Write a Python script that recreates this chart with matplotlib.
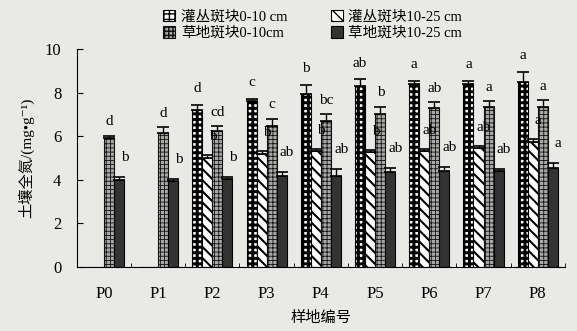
import numpy as np
import matplotlib
matplotlib.use("Agg")
import matplotlib.pyplot as plt
from matplotlib.patches import Patch

plt.rcParams['font.family'] = ['Liberation Serif', 'Noto Sans CJK SC', 'DejaVu Serif']

nan = np.nan
sites = ["P0", "P1", "P2", "P3", "P4", "P5", "P6", "P7", "P8"]
series_names = ["灌丛斑块0-10 cm", "灌丛斑块10-25 cm", "草地斑块0-10cm", "草地斑块10-25 cm"]

# soil total N (mg/g), mean and upper error
shrub_0_10 = [nan, nan, 7.2, 7.6, 7.95, 8.3, 8.4, 8.4, 8.5]
shrub_0_10_err = [nan, nan, 0.25, 0.1, 0.4, 0.3, 0.15, 0.15, 0.45]
shrub_10_25 = [nan, nan, 5.0, 5.2, 5.3, 5.25, 5.3, 5.45, 5.75]
shrub_10_25_err = [nan, nan, 0.15, 0.1, 0.1, 0.1, 0.1, 0.1, 0.1]
grass_0_10 = [5.9, 6.15, 6.25, 6.45, 6.7, 7.0, 7.3, 7.35, 7.35]
grass_0_10_err = [0.1, 0.25, 0.2, 0.35, 0.3, 0.35, 0.25, 0.25, 0.3]
grass_10_25 = [4.0, 3.95, 4.05, 4.15, 4.15, 4.35, 4.4, 4.4, 4.55]
grass_10_25_err = [0.1, 0.1, 0.05, 0.2, 0.35, 0.2, 0.2, 0.1, 0.2]

# significance letters
shrub_0_10_sig = ["", "", "d", "c", "b", "ab", "a", "a", "a"]
shrub_10_25_sig = ["", "", "b", "b", "b", "b", "ab", "ab", "a"]
grass_0_10_sig = ["d", "d", "cd", "c", "bc", "b", "ab", "a", "a"]
grass_10_25_sig = ["b", "b", "b", "ab", "ab", "ab", "ab", "ab", "a"]

bg = '#e9e9e5'
fig = plt.figure(figsize=(5.77, 3.31), dpi=100, facecolor=bg)
ax = fig.add_axes([0.133, 0.194, 0.846, 0.658])
ax.set_facecolor(bg)

x = np.arange(len(sites))
w = 0.185
styles = [
    dict(facecolor='white', edgecolor='black', hatch='+++'),
    dict(facecolor='white', edgecolor='black', hatch='\\\\\\'),
    dict(facecolor='#a8a8a8', edgecolor='#111111', hatch='++++'),
    dict(facecolor='#333333', edgecolor='black', hatch=None),
]
hatch_lw = [2.1, 1.5, 0.6, 1.0]
data = [
    (shrub_0_10, shrub_0_10_err, shrub_0_10_sig),
    (shrub_10_25, shrub_10_25_err, shrub_10_25_sig),
    (grass_0_10, grass_0_10_err, grass_0_10_sig),
    (grass_10_25, grass_10_25_err, grass_10_25_sig),
]
# label placement per series: x shift (in bar widths), y gap
lab_dx = [0.0, 0.55, 0.05, 0.55]
lab_dy = [0.45, 0.55, 0.35, 0.6]


def set_hlw(patch, lw):
    if hasattr(patch, 'set_hatch_linewidth'):
        patch.set_hatch_linewidth(lw)


handles = []
for i, ((vals, errs, sig), st) in enumerate(zip(data, styles)):
    plt.rcParams['hatch.linewidth'] = hatch_lw[i]
    vals = np.array(vals, dtype=float)
    errs = np.array(errs, dtype=float)
    pos = x + (i - 1.5) * w
    bars = ax.bar(pos, np.nan_to_num(vals), w, linewidth=0.8, **st)
    for b in bars:
        set_hlw(b, hatch_lw[i])
    ax.errorbar(pos, vals, yerr=[np.zeros_like(errs), errs], fmt='none',
                ecolor='black', elinewidth=1.0, capsize=4, capthick=1.2)
    for p, v, e, s in zip(pos, vals, errs, sig):
        if s and not np.isnan(v):
            ax.text(p + lab_dx[i] * w, v + e + lab_dy[i], s, ha='center',
                    va='bottom', fontsize=11)
    h = Patch(label=series_names[i], linewidth=0.8, **st)
    set_hlw(h, min(hatch_lw[i], 1.2))
    handles.append(h)

ax.set_xlim(-0.5, 8.5)
ax.set_ylim(0, 10)
ax.set_yticks([0, 2, 4, 6, 8, 10])
ax.set_xticks(x)
ax.set_xticklabels(sites)
ax.set_xticks(np.arange(-0.5, 9, 1), minor=True)
ax.tick_params(axis='x', which='major', length=0, labelsize=12, pad=14)
ax.tick_params(axis='x', which='minor', direction='in', length=3)
ax.tick_params(axis='y', direction='in', length=4, labelsize=12, pad=11)
for sp in ['top', 'right']:
    ax.spines[sp].set_visible(False)
ax.set_ylabel('土壤全氮/(mg•g⁻¹)', fontsize=11, labelpad=8)
ax.set_xlabel('样地编号', fontsize=11, labelpad=6)

order = [handles[0], handles[2], handles[1], handles[3]]
fig.legend(handles=order, loc='upper left', bbox_to_anchor=(0.26, 1.01),
           ncol=2, frameon=False, fontsize=10.5, handlelength=0.8,
           handleheight=0.8, handletextpad=0.4, columnspacing=3.0,
           labelspacing=0.2)

fig.savefig('out.png', dpi=100, facecolor=bg)
